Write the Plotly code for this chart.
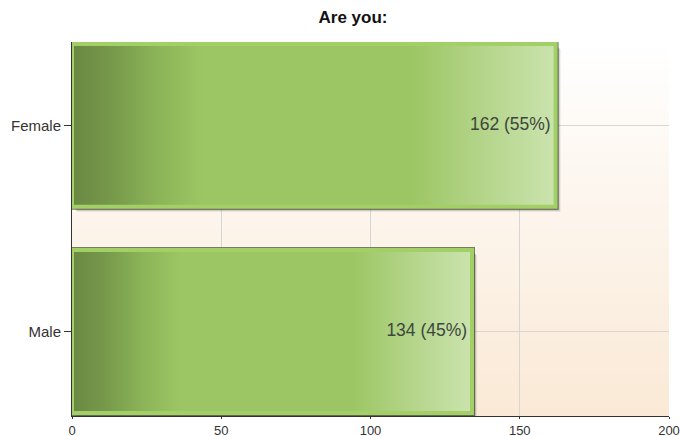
import plotly.graph_objects as go

categories = ["Male", "Female"]
counts = [134, 162]
percents = [45, 55]
x_ticks = [0, 50, 100, 150, 200]

HALF = 0.395
fig = go.Figure()

# background vertical gradient (white -> peach) via thin strips
top_c = (255, 255, 255)
bot_c = (250, 233, 214)
N = 60
for k in range(N):
    t = (k + 0.5) / N
    c = tuple(round(top_c[j] + (bot_c[j] - top_c[j]) * t) for j in range(3))
    fig.add_shape(type="rect", xref="x domain", yref="y domain",
                  x0=0, x1=1, y0=1 - (k + 1) / N, y1=1 - k / N + 0.002,
                  fillcolor="rgb(%d,%d,%d)" % c, line_width=0, layer="below")

xu = 200 / 597.0
yu = 1 / 206.5

def rect(v, i, dx=0.0, dy=0.0):
    xs = [0 + dx, v + dx, v + dx, 0 + dx, 0 + dx]
    ys = [i - HALF - dy, i - HALF - dy, i + HALF - dy, i + HALF - dy, i - HALF - dy]
    return xs, ys

for i, (cat, v) in enumerate(zip(categories, counts)):
    # shadow
    for off, a in [(5, 0.10), (4, 0.18), (3, 0.3)]:
        xs, ys = rect(v, i, off * xu, off * yu)
        fig.add_trace(go.Scatter(x=xs, y=ys, mode="lines", fill="toself",
                                 fillcolor="rgba(50,50,50,%.2f)" % a,
                                 line=dict(width=0), hoverinfo="skip",
                                 showlegend=False))
    xs, ys = rect(v, i)
    fig.add_trace(go.Scatter(x=xs, y=ys, mode="lines",
                             line=dict(color="rgba(85,95,65,0.8)", width=6),
                             hoverinfo="skip", showlegend=False))
    fig.add_trace(go.Scatter(
        x=xs, y=ys, mode="lines", fill="toself",
        fillgradient=dict(type="horizontal",
                          colorscale=[[0, "#6a8843"], [0.08, "#76984a"],
                                      [0.17, "#8ab257"], [0.27, "#9cc663"],
                                      [0.7, "#9cc663"], [0.85, "#b4d58a"],
                                      [1, "#cbe3ae"]]),
        line=dict(color="#a3d066", width=4),
        hoverinfo="skip", showlegend=False))

fig.add_trace(go.Scatter(
    x=counts, y=list(range(len(categories))), mode="text",
    text=["%d (%d%%)\u00a0" % (c, p) for c, p in zip(counts, percents)],
    textposition="middle left",
    textfont=dict(family="Arial, Liberation Sans, sans-serif", size=17.5, color="#3d463d"),
    hoverinfo="skip", showlegend=False))

fig.update_layout(
    width=682, height=436,
    margin=dict(l=72, r=13, t=42, b=20, autoexpand=False),
    paper_bgcolor="white", plot_bgcolor="rgba(0,0,0,0)",
    title=dict(text="<b>Are you:</b>", x=0.5176, xanchor="center", y=0.96, yanchor="middle",
               font=dict(family="Arial, Liberation Sans, sans-serif", size=17, color="#111")),
    font=dict(family="Arial, Liberation Sans, sans-serif", size=15, color="#333"),
    showlegend=False,
)
fig.update_xaxes(range=[0, 200], tickvals=x_ticks, showgrid=True, gridcolor="#d6d6d6",
                 gridwidth=1, zeroline=False, showline=True, linecolor="#333", linewidth=1,
                 ticks="outside", ticklen=2, tickcolor="#333", automargin=False,
                 tickfont=dict(size=13, color="#333"))
fig.update_yaxes(range=[-0.41, 1.405], tickvals=list(range(len(categories))),
                 ticktext=categories, showgrid=True, gridcolor="#d6d6d6", zeroline=False,
                 showline=True, linecolor="#333", linewidth=1, ticks="outside", ticklen=7,
                 tickcolor="#333", automargin=False, tickfont=dict(size=15, color="#333"))

fig.write_html("out.html", config={"displayModeBar": False},
               post_script="document.body.style.margin='0';document.body.style.overflow='hidden';")
